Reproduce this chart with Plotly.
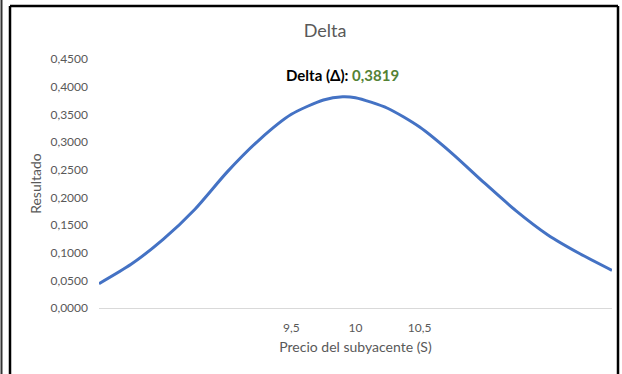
import plotly.graph_objects as go

# Underlying price (S) and resulting delta values
precio = [8.00, 8.25, 8.50, 8.75, 9.00, 9.25, 9.50, 9.75, 9.90, 10.00,
          10.25, 10.50, 10.75, 11.00, 11.25, 11.50, 11.75, 12.00]
resultado = [0.044, 0.079, 0.124, 0.179, 0.246, 0.304, 0.350, 0.376, 0.3819, 0.380,
             0.361, 0.327, 0.280, 0.227, 0.176, 0.132, 0.098, 0.068]

x_tickvals = [9.5, 10, 10.5]
x_ticktext = ["9,5", "10", "10,5"]
y_tickvals = [0, 0.05, 0.10, 0.15, 0.20, 0.25, 0.30, 0.35, 0.40, 0.45]

peak_idx = resultado.index(max(resultado))
peak_x = precio[peak_idx]
peak_y = resultado[peak_idx]
peak_txt = f"{peak_y:.4f}".replace(".", ",")

FONT = "Lato"
GREY = "#595959"

fig = go.Figure()
fig.add_trace(go.Scatter(
    x=precio, y=resultado, mode="lines",
    line=dict(color="#4472C4", width=3, shape="spline", smoothing=0.7),
    hoverinfo="skip", showlegend=False,
))

fig.add_annotation(
    x=peak_x, y=peak_y, xref="x", yref="y",
    text=f"<b>Delta (Δ): </b><b><span style='color:#548235'>{peak_txt}</span></b>",
    showarrow=False, yanchor="bottom", yshift=11,
    font=dict(family=FONT, size=15, color="#000000"),
)

# Chart frame
L, R, T, B = 99, 612, 59, 308
W, H = R - L, B - T
def px(x): return (x - L) / W
def py(y): return (B - y) / H

border = dict(color="#000000", width=2.5)
shapes = [
    dict(type="line", xref="paper", yref="paper", x0=px(10), x1=px(10), y0=py(6), y1=py(380), line=border),
    dict(type="line", xref="paper", yref="paper", x0=px(10), x1=px(618), y0=py(6), y1=py(6), line=border),
    dict(type="line", xref="paper", yref="paper", x0=px(618), x1=px(618), y0=py(6), y1=py(380), line=border),
    dict(type="line", xref="paper", yref="paper", x0=px(1.5), x1=px(1.5), y0=py(-5), y1=py(380),
         line=dict(color="#333333", width=2)),
]

fig.update_layout(
    width=622, height=374,
    margin=dict(l=L, r=622 - R, t=T, b=374 - B),
    paper_bgcolor="white", plot_bgcolor="white",
    separators=",.",
    font=dict(family=FONT, color=GREY, size=12),
    title=dict(text="Delta", x=325 / 622, xanchor="center",
               y=1 - 31 / 374, yanchor="middle",
               font=dict(family=FONT, size=18, color=GREY)),
    xaxis=dict(range=[8, 12], tickvals=x_tickvals, ticktext=x_ticktext,
               showgrid=False, zeroline=False, showline=False, ticks="",
               ticklabelstandoff=11,
               title=dict(text="Precio del subyacente (S)", standoff=8,
                          font=dict(family=FONT, size=14, color=GREY)),
               tickfont=dict(family=FONT, size=12, color=GREY)),
    yaxis=dict(range=[0, 0.45], tickvals=y_tickvals, tickformat=".4f",
               showgrid=False, zeroline=True, zerolinecolor="#D9D9D9", zerolinewidth=1,
               showline=False, ticks="", ticklabelstandoff=10,
               title=dict(text="Resultado", standoff=5,
                          font=dict(family=FONT, size=14, color=GREY)),
               tickfont=dict(family=FONT, size=12, color=GREY)),
    shapes=shapes,
)

fig.write_html("out.html")
